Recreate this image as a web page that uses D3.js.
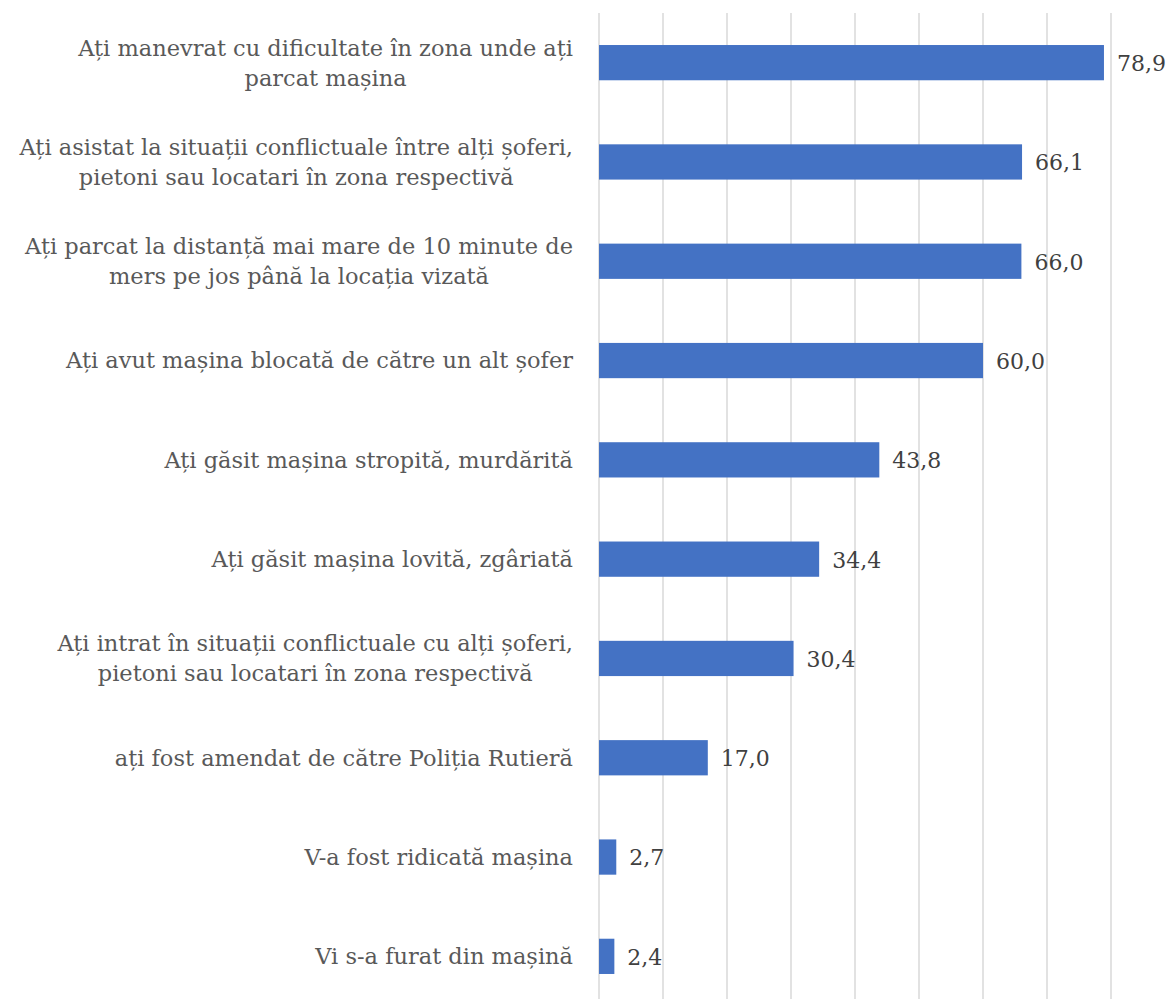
<!DOCTYPE html>
<html>
<head>
<meta charset="utf-8">
<script src="https://cdn.jsdelivr.net/npm/d3@7"></script>
<style>
  body { margin: 0; background: #fff; }
  svg text { font-family: "DejaVu Serif", Georgia, serif; }
</style>
</head>
<body>
<div id="chart"></div>
<script>
// categories, top to bottom (line breaks as in the original)
var categories = [
  ["Ați manevrat cu dificultate în zona unde ați", "parcat mașina"],
  ["Ați asistat la situații conflictuale între alți șoferi,", "pietoni sau locatari în zona respectivă"],
  ["Ați parcat la distanță mai mare de 10 minute de", "mers pe jos până la locația vizată"],
  ["Ați avut mașina blocată de către un alt șofer"],
  ["Ați găsit mașina stropită, murdărită"],
  ["Ați găsit mașina lovită, zgâriată"],
  ["Ați intrat în situații conflictuale cu alți șoferi,", "pietoni sau locatari în zona respectivă"],
  ["ați fost amendat de către Poliția Rutieră"],
  ["V-a fost ridicată mașina"],
  ["Vi s-a furat din mașină"]
];
var values = [78.9, 66.1, 66.0, 60.0, 43.8, 34.4, 30.4, 17.0, 2.7, 2.4];
var gridTicks = [0, 10, 20, 30, 40, 50, 60, 70, 80];

var svgWidth = 1170, svgHeight = 999;
var margin = { top: 13, left: 599 };
var width = 512;
var height = 993;   // runs a little past the bottom edge, like the original

var svg = d3.select("#chart").append("svg")
  .attr("width", svgWidth)
  .attr("height", svgHeight);

var chartGroup = svg.append("g")
  .attr("transform", `translate(${margin.left}, ${margin.top})`);

var data = values.map((v, i) => ({ lines: categories[i], value: v, key: i }));

var xScale = d3.scaleLinear().domain([0, 80]).range([0, width]);
var yScale = d3.scaleBand()
  .domain(data.map(d => d.key))
  .range([0, height])
  .paddingInner(0.645)
  .paddingOuter(0.3225);

// gridlines
chartGroup.selectAll(".grid")
  .data(gridTicks)
  .enter()
  .append("line")
  .attr("x1", d => xScale(d))
  .attr("x2", d => xScale(d))
  .attr("y1", 0)
  .attr("y2", height)
  .attr("stroke", "#d9d9d9")
  .attr("stroke-width", 1.5);

// bars
chartGroup.selectAll(".bar")
  .data(data)
  .enter()
  .append("rect")
  .attr("x", xScale(0))
  .attr("y", d => yScale(d.key))
  .attr("width", d => xScale(d.value) - xScale(0))
  .attr("height", yScale.bandwidth())
  .attr("fill", "#4472c4");

// value labels
chartGroup.selectAll(".val")
  .data(data)
  .enter()
  .append("text")
  .attr("x", d => xScale(d.value) + 13)
  .attr("y", d => yScale(d.key) + yScale.bandwidth() / 2)
  .attr("dy", "0.38em")
  .attr("font-size", 22)
  .attr("fill", "#404040")
  .text(d => d.value.toFixed(1).replace(".", ","));

// category labels: block right-aligned, lines centered inside the block
var labelRight = -26;
var lineHeight = 30;
data.forEach(function(d) {
  var g = chartGroup.append("g");
  var cy = yScale(d.key) + yScale.bandwidth() / 2;
  var n = d.lines.length;
  var texts = d.lines.map(function(line, i) {
    return g.append("text")
      .attr("y", cy + (i - (n - 1) / 2) * lineHeight)
      .attr("dy", "0.35em")
      .attr("font-size", 22.5)
      .attr("fill", "#595959")
      .attr("text-anchor", "middle")
      .text(line);
  });
  var maxW = d3.max(texts, t => t.node().getComputedTextLength());
  texts.forEach(t => t.attr("x", labelRight - maxW / 2));
});
</script>
</body>
</html>
